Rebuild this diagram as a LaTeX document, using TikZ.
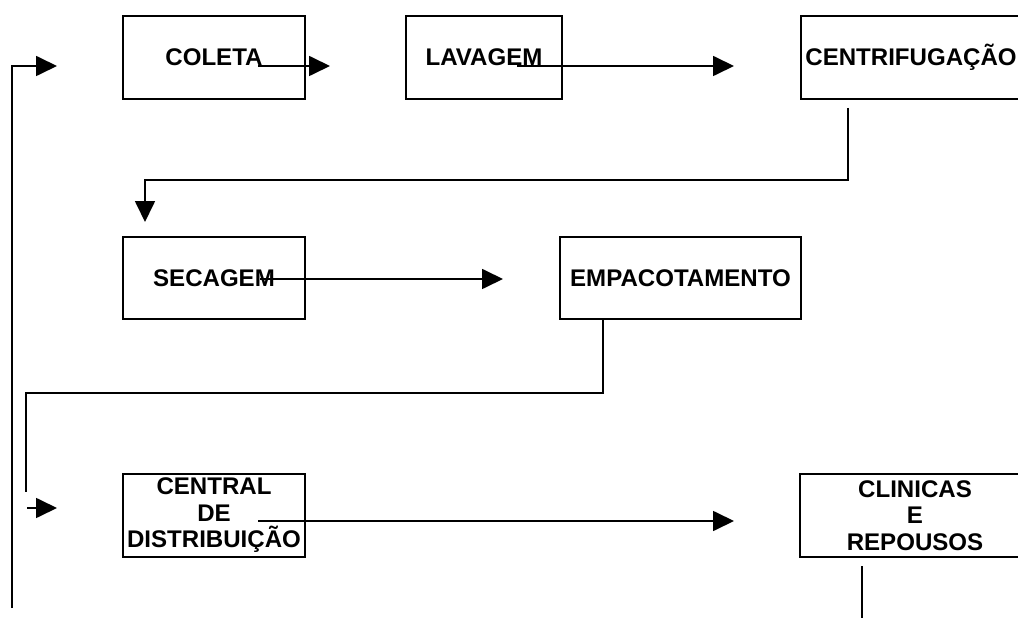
\documentclass[tikz,border=0pt]{standalone}
\usepackage{fontspec}
\setmainfont{Liberation Sans}
\usetikzlibrary{arrows.meta}

\begin{document}
\begin{tikzpicture}[x=0.02cm,y=-0.02cm,
    etapa/.style={draw,line width=1.1pt,minimum height=1.65cm,inner sep=0pt,align=center,
      font=\bfseries\fontsize{13.7}{15.1}\selectfont},
    fluxo/.style={line width=1pt,-{Triangle[length=0.42cm,width=0.4cm]}},
    linha/.style={line width=1pt}]
  \useasboundingbox (0,0) rectangle (1018,618);

  % etapas
  \node[etapa,minimum width=3.64cm] (coleta) at (214,57.5) {COLETA};
  \node[etapa,minimum width=3.12cm] (lavagem) at (484,57.5) {LAVAGEM};
  \node[etapa,minimum width=4.4cm] (centrif) at (911,57.5) {CENTRIFUGAÇÃO};
  \node[etapa,minimum width=3.64cm] (secagem) at (214,278) {SECAGEM};
  \node[etapa,minimum width=4.82cm] (empacot) at (680.5,278) {EMPACOTAMENTO};
  \node[etapa,minimum width=3.64cm] (central) at (214,515.5) {CENTRAL\\DE\\DISTRIBUIÇÃO};
  \node[etapa,minimum width=4.6cm] (clinicas) at (915,515.5) {CLINICAS\\E\\REPOUSOS};

  % pontos soltos das setas
  \coordinate (retbase) at (12,608);
  \coordinate (entrada) at (57,66);
  \coordinate (c1) at (258,66);
  \coordinate (c2) at (330,66);
  \coordinate (l1) at (517,66);
  \coordinate (l2) at (734,66);
  \coordinate (ce1) at (848,108);
  \coordinate (ce2) at (145,180);
  \coordinate (s2) at (145,222);
  \coordinate (se1) at (260,279);
  \coordinate (se2) at (503,279);
  \coordinate (e1) at (603,319);
  \coordinate (e2) at (26,393);
  \coordinate (e3) at (26,492);
  \coordinate (d1) at (27,508);
  \coordinate (d2) at (57,508);
  \coordinate (cd1) at (258,521);
  \coordinate (cd2) at (734,521);
  \coordinate (r1) at (862,566);
  \coordinate (r2) at (862,618);

  % conexoes
  \draw[fluxo] (retbase) |- (entrada);
  \draw[fluxo] (c1) -- (c2);
  \draw[fluxo] (l1) -- (l2);
  \draw[fluxo] (ce1) |- (ce2) -- (s2);
  \draw[fluxo] (se1) -- (se2);
  \draw[linha] (e1) |- (e2) -- (e3);
  \draw[fluxo] (d1) -- (d2);
  \draw[fluxo] (cd1) -- (cd2);
  \draw[linha] (r1) -- (r2);
\end{tikzpicture}
\end{document}
